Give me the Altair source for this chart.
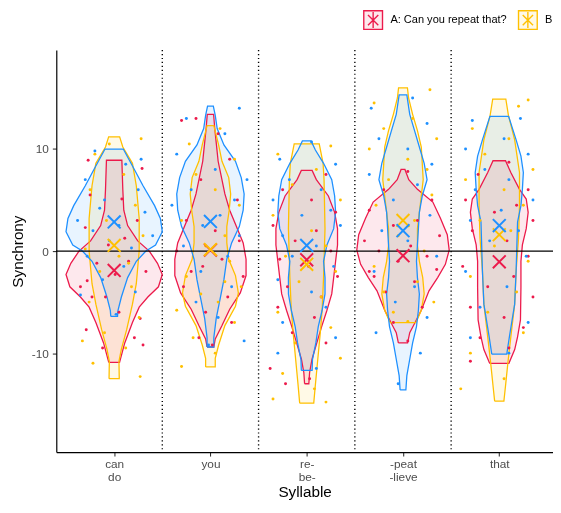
import altair as alt
import pandas as pd

# ---------------- data ----------------
syllables = ["can\ndo", "you", "re-\nbe-", "-peat\n-lieve", "that"]
groups = ["A: Can you repeat that?", "B: Can you believe that?", "C: Do you believe that?"]
colors = ["#EC1A4B", "#FFC000", "#1E90FF"]
tints = ["#FDE8ED", "#FFF9E6", "#E8F4FF"]

# violin outlines: (Synchrony value, half width in category units), one list per syllable
violin_A = [
    [(-10.9, .056), (-9, .11), (-7, .19), (-5.5, .26), (-4.5, .35), (-3.5, .46), (-2.3, .50), (-1.2, .45),
     (0, .365), (1, .245), (2.5, .14), (4, .10), (6, .09), (8.9, .08)],
    [(-9.4, .035), (-8.6, .05), (-7.3, .12), (-5.7, .20), (-4.1, .31), (-2.4, .37), (-0.8, .37), (0.8, .34),
     (2.4, .27), (4.0, .20), (5.6, .15), (8.8, .08), (12, .045), (13.4, .033)],
    [(-13.0, .022), (-11.9, .03), (-10.6, .055), (-9.0, .105), (-7.4, .155), (-5.8, .21), (-4.2, .26), (-2.6, .28),
     (-1.0, .30), (0.6, .32), (2.2, .32), (3.8, .29), (5.4, .225), (7.0, .10), (7.9, .056)],
    [(-9.0, .048), (-8.0, .07), (-7.1, .12), (-5.8, .19), (-3.9, .27), (-2.6, .36), (-1.3, .44), (0.1, .48),
     (1.6, .46), (3.2, .39), (4.8, .31), (6.05, .15), (7.0, .06), (8.0, .02)],
    [(-11.0, .10), (-9.65, .16), (-8.4, .19), (-6.75, .22), (-3.55, .225), (-1.0, .225), (0.6, .24), (2.2, .28),
     (3.8, .30), (5.1, .28), (6.05, .21), (7.7, .12), (8.85, .065)],
]
violin_B = [
    [(-12.5, .053), (-10.8, .05), (-9.6, .075), (-7.7, .13), (-5.2, .19), (-3.2, .23), (0, .26), (3.2, .26),
     (6.4, .23), (8.6, .19), (10.2, .09), (11.2, .057)],
    [(-11.35, .05), (-10.5, .05), (-9.2, .085), (-7.3, .15), (-5.4, .26), (-4.1, .29), (-2.4, .26), (-0.8, .19),
     (0.8, .17), (2.4, .17), (4.0, .195), (5.6, .21), (7.2, .19), (8.8, .12), (10.4, .085), (12.3, .035)],
    [(-14.9, .073), (-13.1, .09), (-10.6, .115), (-8.1, .14), (-5.8, .16), (-2.6, .175), (2.2, .19), (7.0, .18),
     (8.6, .17), (10.5, .13)],
    [(-7.0, .135), (-5.8, .19), (-4.2, .22), (-2.6, .205), (-1.0, .17), (0.6, .15), (2.2, .15), (3.8, .17),
     (5.4, .19), (7.0, .21), (8.6, .20), (10.2, .19), (11.8, .15), (13.4, .10), (15.0, .058), (16.0, .046)],
    [(-14.7, .048), (-13.2, .065), (-10.9, .09), (-8.4, .12), (-5.2, .16), (-1.95, .175), (1.25, .20), (4.45, .21),
     (7.7, .21), (10.9, .16), (13.3, .095), (14.9, .068)],
]
violin_C = [
    [(-6.4, .035), (-5.8, .04), (-4.5, .075), (-2.6, .14), (-1, .23), (0, .33), (0.6, .43), (1.9, .50),
     (3.2, .48), (4.45, .42), (6.4, .30), (8.0, .21), (10.0, .095)],
    [(-9.4, .035), (-8.5, .035), (-6.6, .06), (-4.7, .10), (-2.8, .14), (-0.8, .17), (0.8, .22), (2.4, .30),
     (4.0, .34), (5.6, .35), (7.2, .32), (8.8, .26), (10.4, .14), (12, .07), (13.3, .05), (14.2, .03)],
    [(-11.7, .056), (-10.6, .06), (-9.0, .095), (-7.4, .12), (-5.8, .16), (-4.2, .19), (-2.6, .19), (-1.0, .175),
     (0.6, .21), (2.2, .28), (3.8, .30), (5.4, .29), (7.0, .26), (8.6, .175), (9.9, .09), (10.8, .045)],
    [(-13.6, .03), (-12.2, .04), (-10.6, .07), (-9.0, .10), (-7.4, .14), (-5.8, .16), (-4.2, .17), (-2.6, .15),
     (-1.0, .14), (0.6, .15), (2.2, .16), (3.8, .17), (5.4, .20), (7.0, .25), (8.6, .22), (10.2, .17),
     (11.8, .12), (13.4, .07), (15.3, .04)],
    [(-10.1, .078), (-8.4, .105), (-5.2, .16), (-1.95, .175), (1.25, .185), (2.85, .19), (4.45, .225),
     (6.05, .24), (7.7, .25), (9.3, .225), (10.9, .175), (13.2, .097)],
]

means_A = [-1.9, 0.1, -0.85, -0.45, -1.05]
means_B = [0.55, 0.15, -1.3, 3.0, 1.6]
means_C = [2.85, 2.9, 0.55, 2.0, 2.5]

# jittered observations: (horizontal jitter in category units, Synchrony)
dots_A = [
    [(-0.27, 8.9), (0.29, 8.1), (-0.30, 2.3), (-0.28, -2.9), (-0.23, -4.5), (-0.29, -7.7), (0.21, -8.5),
     (0.30, -9.2), (0.27, -6.6), (0.15, -1.0), (0.01, -2.3), (-0.09, -4.5), (0.11, 1.25), (0.08, 5.1),
     (-0.06, 0.6), (-0.35, -3.5), (0.33, -2.0), (-0.18, -1.2), (0.05, -6.0), (-0.12, -9.5), (0.24, 3.0),
     (-0.25, 5.5)],
    [(-0.15, 13.0), (0.08, 11.5), (-0.30, 12.8), (0.20, 9.0), (-0.10, 7.0), (0.28, 5.0), (-0.25, 3.0),
     (0.05, 2.0), (0.30, 1.0), (-0.35, 0.0), (0.12, -0.8), (-0.08, -1.5), (0.34, -2.5), (-0.28, -3.5),
     (0.18, -4.5), (-0.05, -6.0), (0.22, -7.0), (-0.12, -8.5), (0.02, -9.2), (-0.20, -2.0)],
    [(0.20, 7.5), (-0.25, 6.0), (0.05, 5.0), (0.30, 3.8), (-0.35, 2.5), (0.10, 2.0), (-0.12, 1.0), (0.25, 0.0),
     (-0.28, -0.8), (0.02, -1.5), (0.32, -2.5), (-0.20, -3.5), (0.15, -4.5), (-0.30, -5.5), (0.08, -6.5),
     (-0.15, -8.0), (0.20, -9.0), (-0.38, -11.5), (0.03, -12.5), (-0.22, -13.0)],
    [(0.05, 7.8), (-0.20, 6.0), (0.30, 5.0), (-0.35, 4.0), (0.15, 3.0), (-0.10, 2.5), (0.38, 1.5), (-0.40, 1.0),
     (0.08, 0.5), (-0.25, 0.0), (0.25, -0.5), (-0.05, -1.0), (0.35, -1.8), (-0.30, -2.5), (0.12, -3.0),
     (-0.18, -4.0), (0.20, -5.5), (-0.10, -7.0), (0.05, -8.8), (-0.35, -2.0)],
    [(0.10, 8.7), (-0.22, 7.5), (0.30, 6.0), (-0.35, 5.0), (0.18, 4.5), (-0.05, 3.8), (0.35, 3.0), (-0.28, 2.0),
     (0.08, 1.0), (0.30, -0.5), (-0.38, -1.5), (0.15, -2.5), (-0.12, -3.5), (0.35, -4.5), (-0.30, -5.5),
     (0.05, -6.5), (0.25, -7.5), (-0.20, -8.5), (0.10, -9.5), (-0.30, -10.8)],
]
dots_B = [
    [(0.28, 11.0), (-0.20, 9.5), (0.10, 7.5), (-0.25, 6.0), (0.22, 4.5), (-0.08, 3.0), (0.30, 1.5), (-0.30, 0.2),
     (0.05, -0.5), (-0.15, -2.0), (0.18, -3.5), (-0.26, -5.0), (0.26, -6.5), (-0.10, -8.0), (0.12, -9.5),
     (-0.22, -11.0), (0.27, -12.3), (-0.05, 10.5), (0.15, -1.2), (-0.33, -8.8)],
    [(0.10, 12.0), (-0.22, 10.5), (0.25, 9.0), (-0.15, 7.5), (0.05, 6.0), (0.30, 4.5), (-0.30, 3.0), (0.15, 1.5),
     (-0.05, 0.5), (0.20, -1.0), (-0.25, -2.5), (0.32, -3.5), (-0.10, -4.2), (0.08, -5.0), (-0.35, -5.8),
     (0.25, -7.0), (-0.18, -8.5), (0.05, -10.0), (-0.30, -11.3), (0.15, -3.0)],
    [(0.25, 10.3), (-0.30, 9.5), (0.10, 8.0), (-0.15, 6.5), (0.35, 5.0), (-0.35, 3.5), (0.05, 2.0), (0.20, 0.5),
     (-0.22, -0.5), (0.30, -2.0), (-0.08, -3.0), (0.15, -4.5), (-0.30, -6.0), (0.25, -7.5), (-0.12, -9.0),
     (0.35, -10.5), (-0.25, -12.0), (0.08, -13.5), (-0.35, -14.5), (0.20, -14.8)],
    [(0.28, 15.8), (-0.30, 14.5), (0.10, 13.0), (-0.20, 12.0), (0.35, 11.0), (-0.35, 10.0), (0.05, 9.0),
     (0.25, 8.0), (-0.15, 7.0), (0.30, 5.5), (-0.28, 4.5), (0.12, 3.0), (-0.05, 1.5), (0.22, 0.0), (-0.30, -1.5),
     (0.15, -3.0), (-0.20, -4.0), (0.32, -5.0), (-0.10, -6.0), (0.05, -6.9)],
    [(0.30, 14.8), (0.20, 14.2), (-0.28, 12.0), (0.10, 11.0), (-0.15, 9.5), (0.35, 8.0), (-0.35, 7.0), (0.05, 6.0),
     (0.25, 4.5), (-0.20, 3.0), (0.12, 2.0), (-0.05, 0.5), (0.30, -1.0), (-0.30, -2.5), (0.18, -4.0),
     (-0.12, -6.0), (0.25, -8.0), (-0.30, -10.0), (0.05, -12.5), (-0.40, -13.5)],
]
dots_C = [
    [(-0.20, 9.8), (0.12, 8.5), (-0.30, 7.0), (0.25, 6.0), (-0.10, 5.0), (0.32, 3.8), (-0.38, 3.0), (0.05, 2.5),
     (-0.22, 2.0), (0.40, 1.5), (-0.05, 1.0), (0.18, 0.3), (-0.28, -0.5), (0.10, -1.5), (-0.12, -2.8),
     (0.22, -4.0), (-0.35, -4.3), (0.02, -6.2), (0.28, 9.0), (-0.15, 4.2)],
    [(0.30, 14.0), (-0.25, 13.0), (0.15, 11.5), (-0.35, 9.5), (0.05, 8.0), (0.38, 7.0), (-0.20, 6.0), (0.25, 5.0),
     (-0.40, 4.5), (0.10, 3.5), (-0.08, 2.5), (0.30, 1.5), (-0.28, 0.5), (0.18, -0.5), (-0.10, -2.0),
     (0.22, -3.5), (-0.15, -5.0), (0.08, -6.5), (0.35, -8.8), (-0.02, -9.2)],
    [(0.05, 10.7), (-0.28, 9.0), (0.30, 8.5), (-0.18, 7.0), (0.15, 6.0), (-0.35, 5.0), (0.25, 4.0), (-0.05, 3.5),
     (0.35, 2.5), (-0.25, 1.5), (0.10, 0.5), (-0.15, -0.5), (0.28, -1.5), (-0.30, -2.8), (0.05, -4.0),
     (0.20, -5.5), (-0.25, -7.0), (0.30, -8.5), (-0.30, -10.0), (0.10, -11.5)],
    [(-0.33, 14.0), (0.10, 15.0), (0.25, 12.5), (-0.25, 11.0), (0.05, 10.0), (0.30, 8.5), (-0.35, 7.5),
     (0.15, 6.5), (-0.10, 5.0), (0.28, 3.5), (-0.22, 2.0), (0.05, 1.0), (0.35, -0.5), (-0.30, -2.0), (0.12, -3.5),
     (-0.08, -5.0), (0.25, -6.5), (-0.28, -8.0), (0.18, -10.0), (-0.05, -13.0)],
    [(-0.28, 12.8), (0.22, 13.0), (0.05, 11.0), (-0.35, 10.0), (0.30, 9.5), (-0.15, 8.0), (0.10, 7.0),
     (-0.25, 6.0), (0.35, 5.0), (0.02, 4.0), (-0.30, 3.0), (0.20, 2.0), (-0.10, 1.0), (0.28, -0.5), (-0.35, -2.0),
     (0.08, -3.5), (-0.20, -5.5), (0.30, -7.0), (-0.30, -8.5), (0.10, -10.0)],
]

# ---------------- tables built from the arrays ----------------
violins = [violin_A, violin_B, violin_C]
means = [means_A, means_B, means_C]
dots = [dots_A, dots_B, dots_C]

area_rows, line_rows, dot_rows, mean_rows = [], [], [], []
for g, grp in enumerate(groups):
    for s in range(len(syllables)):
        pos = s + 1
        vid = f"{g}-{s}"
        prof = violins[g][s]
        for (yv, hw) in prof:
            area_rows.append({"vid": vid, "group": grp, "y": yv, "lo": pos - hw, "hi": pos + hw})
        outline = [(pos - hw, yv) for (yv, hw) in prof] + [(pos + hw, yv) for (yv, hw) in reversed(prof)]
        outline.append(outline[0])
        for k, (xv, yv) in enumerate(outline):
            line_rows.append({"vid": vid, "group": grp, "x": xv, "y": yv, "ord": k})
        for (dx, yv) in dots[g][s]:
            dot_rows.append({"group": grp, "x": pos + dx, "y": yv})
        mean_rows.append({"group": grp, "x": pos, "y": means[g][s]})

area_df = pd.DataFrame(area_rows)
line_df = pd.DataFrame(line_rows)
dot_df = pd.DataFrame(dot_rows)
mean_df = pd.DataFrame(mean_rows)
sep_df = pd.DataFrame({"x": [1.5, 2.5, 3.5, 4.5]})
zero_df = pd.DataFrame({"y": [0]})

# ---------------- scales / axes ----------------
label_arr = "[" + ",".join("[" + ",".join("'" + p + "'" for p in s.split("\n")) + "]" for s in syllables) + "]"
x_scale = alt.Scale(domain=[0.399, 5.558], nice=False, zero=False)
y_scale = alt.Scale(domain=[-19.7, 19.7], nice=False, zero=False)
x_axis = alt.Axis(title="Syllable", values=[1, 2, 3, 4, 5], labelExpr=f"{label_arr}[round(datum.value)-1]",
                  grid=False, labelLineHeight=12.5, labelPadding=3, titlePadding=3)
y_axis = alt.Axis(title="Synchrony", values=[-10, 0, 10], labelExpr="'' + datum.value", grid=False,
                  labelPadding=4, titlePadding=6)

fill_scale = alt.Scale(domain=groups, range=tints)
stroke_scale = alt.Scale(domain=groups, range=colors)
color_scale = alt.Scale(domain=groups, range=colors)

legend_path = "M-1,-1H1V1H-1Z M-0.55,-0.55L0.55,0.55 M-0.55,0.55L0.55,-0.55 M0,-0.85V0.85"
x_path = "M-1,-1L1,1M-1,1L1,-1"
legend = alt.Legend(title=None, orient="none", legendX=311, legendY=-41, direction="horizontal",
                    symbolType=legend_path, symbolSize=361, symbolStrokeWidth=1.4,
                    labelFontSize=11.2, labelColor="black", labelOffset=7, columnPadding=8, labelLimit=300)

X = lambda f: alt.X(f, type="quantitative", scale=x_scale, axis=x_axis)
Y = lambda f: alt.Y(f, type="quantitative", scale=y_scale, axis=y_axis)

seps = alt.Chart(sep_df).mark_rule(color="black", strokeWidth=1.4, strokeDash=[1.2, 2.8]).encode(x=X("x"))

fills = alt.Chart(area_df).mark_area(orient="horizontal", blend="multiply").encode(
    y=Y("y"), x=X("lo"), x2="hi",
    fill=alt.Fill("group:N", scale=fill_scale, legend=legend), detail="vid:N")

outlines = alt.Chart(line_df).mark_line(strokeWidth=1.3).encode(
    x=X("x"), y=Y("y"), order="ord:Q", detail="vid:N",
    stroke=alt.Stroke("group:N", scale=stroke_scale, legend=legend))

points = alt.Chart(dot_df).mark_circle(size=9, opacity=1).encode(
    x=X("x"), y=Y("y"), color=alt.Color("group:N", scale=color_scale, legend=None))

zero = alt.Chart(zero_df).mark_rule(color="black", strokeWidth=1.3).encode(y=Y("y"))

mean_marks = alt.Chart(mean_df).mark_point(shape=x_path, size=170, strokeWidth=2, filled=False,
                                           opacity=1).encode(
    x=X("x"), y=Y("y"),
    stroke=alt.Stroke("group:N", scale=stroke_scale))

chart = alt.layer(seps, fills, outlines, points, zero, mean_marks).properties(
    width=504, height=408,
    padding={"left": 49, "top": 39, "right": 0, "bottom": 50},
    autosize=alt.AutoSizeParams(type="none"),
).configure(font="Liberation Sans").configure_view(stroke=None).configure_axis(
    domainColor="black", domainWidth=1.2, tickColor="#333333", tickWidth=1.1, tickSize=4,
    labelColor="#4D4D4D", labelFontSize=12, titleColor="black", titleFontSize=15.5,
    titleFontWeight="normal")

chart.save("out.html", embed_options={"renderer": "svg", "actions": False})
